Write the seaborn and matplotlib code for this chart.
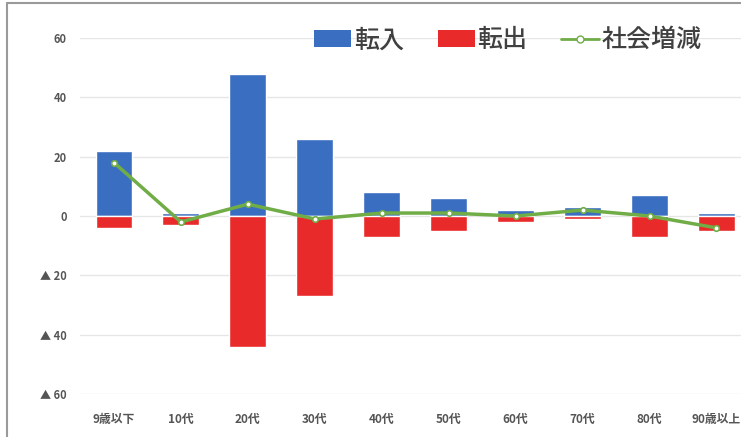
import matplotlib
matplotlib.use("Agg")
import matplotlib.pyplot as plt
import seaborn as sns
import pandas as pd
from matplotlib.patches import Patch
from matplotlib.lines import Line2D

# 年齢別の転入・転出・社会増減
ages = ["9歳以下", "10代", "20代", "30代", "40代", "50代", "60代", "70代", "80代", "90歳以上"]
tennyu = [22, 1, 48, 26, 8, 6, 2, 3, 7, 1]
tenshutsu = [-4, -3, -44, -27, -7, -5, -2, -1, -7, -5]
shakai = [18, -2, 4, -1, 1, 1, 0, 2, 0, -4]
yticks = [-60, -40, -20, 0, 20, 40, 60]
ylabels = ["▲ 60", "▲ 40", "▲ 20", "0", "20", "40", "60"]

BLUE = "#3A6EC0"
RED = "#E92A2A"
GREEN = "#70AD47"
TXT = "#555555"

sns.set_theme(style="white")
plt.rcParams["font.family"] = ["Noto Sans CJK JP", "DejaVu Sans"]

df = pd.DataFrame({"age": ages, "in": tennyu, "out": tenshutsu, "net": shakai})

fig = plt.figure(figsize=(7.41, 4.37), dpi=100)
ax = fig.add_axes([0.1086, 0.0984, 0.8914, 0.8146])

sns.barplot(data=df, x="age", y="in", color=BLUE, saturation=1, width=0.55, ax=ax)
sns.barplot(data=df, x="age", y="out", color=RED, saturation=1, width=0.55, ax=ax)
sns.pointplot(data=df, x="age", y="net", color=GREEN, markers="o", markersize=4,
              markerfacecolor="white", markeredgecolor=GREEN, markeredgewidth=1.2,
              linewidth=2.5, errorbar=None, ax=ax)

ax.set_xlim(-0.5, 9.366)
ax.set_ylim(-60, 60)
ax.set_yticks(yticks)
ax.set_yticklabels(ylabels)
ax.yaxis.grid(True, color="#E6E6E6", linewidth=1)
ax.set_axisbelow(True)
for s in ax.spines.values():
    s.set_visible(False)
ax.set_xlabel("")
ax.set_ylabel("")
ax.tick_params(axis="y", length=0, labelsize=8, labelcolor=TXT, pad=10)
ax.tick_params(axis="x", length=0, labelsize=8.5, labelcolor=TXT, pad=14)
for t in ax.get_xticklabels() + ax.get_yticklabels():
    t.set_fontweight("bold")

handles = [
    Patch(facecolor=BLUE, edgecolor="none"),
    Patch(facecolor=RED, edgecolor="none"),
    Line2D([], [], color=GREEN, linewidth=2, marker="o", markersize=5,
           markerfacecolor="white", markeredgecolor=GREEN),
]
leg = fig.legend(handles, ["転入", "転出", "社会増減"], loc="center",
                 bbox_to_anchor=(0.685, 0.908), ncol=3, frameon=False,
                 prop={"size": 18, "weight": "medium"},
                 handlelength=1.5, handleheight=0.65,
                 handletextpad=0.1, columnspacing=1.35)
for t in leg.get_texts():
    t.set_color("#404040")

# 外枠
fig.add_artist(Line2D([0.0095, 0.0095], [0, 0.993], color="#9A9A9A", linewidth=1.5))
fig.add_artist(Line2D([0.0095, 1], [0.993, 0.993], color="#9A9A9A", linewidth=1.5))

fig.savefig("out.png", dpi=100)
